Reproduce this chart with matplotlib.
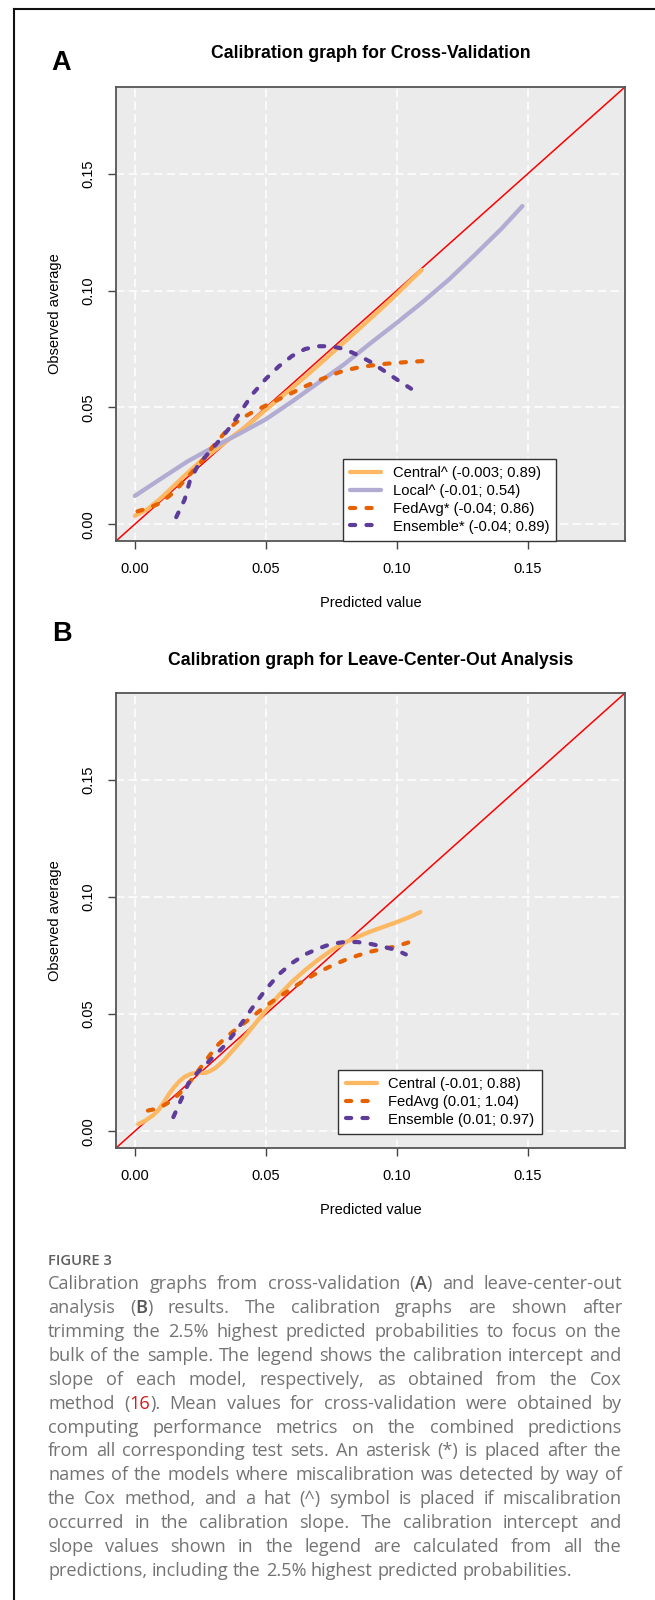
import re
import matplotlib
matplotlib.use("Agg")
import matplotlib.pyplot as plt

# ---------------- data ----------------
# panel A: cross-validation
cv_central_x = [0.000, 0.005, 0.010, 0.015, 0.020, 0.025, 0.030, 0.035, 0.040, 0.045, 0.050,
                0.055, 0.060, 0.065, 0.070, 0.075, 0.080, 0.085, 0.090, 0.095, 0.100, 0.105, 0.1095]
cv_central_y = [0.0036, 0.0065, 0.0112, 0.0165, 0.0218, 0.0268, 0.0312, 0.0355, 0.0398, 0.0442, 0.0490,
                0.0537, 0.0583, 0.0631, 0.0680, 0.0730, 0.0780, 0.0830, 0.0881, 0.0932, 0.0985, 0.1040, 0.1088]

cv_local_x = [0.000, 0.010, 0.020, 0.030, 0.040, 0.050, 0.060, 0.070, 0.080, 0.090,
              0.100, 0.110, 0.120, 0.130, 0.140, 0.148]
cv_local_y = [0.0121, 0.0195, 0.0268, 0.0330, 0.0388, 0.0449, 0.0525, 0.0605, 0.0685, 0.0775,
              0.0862, 0.0952, 0.1048, 0.1155, 0.1265, 0.1362]

cv_fedavg_x = [0.001, 0.005, 0.010, 0.015, 0.020, 0.025, 0.030, 0.035, 0.040, 0.045, 0.050, 0.055,
               0.060, 0.065, 0.070, 0.075, 0.080, 0.085, 0.090, 0.095, 0.100, 0.105, 0.111]
cv_fedavg_y = [0.0055, 0.0068, 0.0092, 0.0138, 0.0200, 0.0262, 0.0335, 0.0400, 0.0448, 0.0480, 0.0508, 0.0535,
               0.0562, 0.0590, 0.0615, 0.0638, 0.0658, 0.0670, 0.0679, 0.0686, 0.0691, 0.0695, 0.0699]

cv_ensemble_x = [0.0158, 0.0175, 0.0190, 0.0210, 0.0240, 0.0280, 0.0320, 0.0360, 0.0400, 0.0450, 0.0500,
                 0.0550, 0.0600, 0.0650, 0.0700, 0.0750, 0.0800, 0.0850, 0.0900, 0.0950, 0.1000, 0.1055]
cv_ensemble_y = [0.0030, 0.0070, 0.0105, 0.0185, 0.0250, 0.0303, 0.0355, 0.0410, 0.0475, 0.0558, 0.0622,
                 0.0676, 0.0720, 0.0750, 0.0762, 0.0762, 0.0750, 0.0725, 0.0695, 0.0658, 0.0620, 0.0580]

cv_labels = ["Central^ (-0.003; 0.89)", "Local^ (-0.01; 0.54)",
             "FedAvg* (-0.04; 0.86)", "Ensemble* (-0.04; 0.89)"]

# panel B: leave-center-out
lco_central_x = [0.0013, 0.0040, 0.0070, 0.0090, 0.0110, 0.0130, 0.0150, 0.0170, 0.0190, 0.0210, 0.0230,
                 0.0250, 0.0270, 0.0290, 0.0310, 0.0340, 0.0370, 0.0400, 0.0430, 0.0460, 0.0500, 0.0550,
                 0.0600, 0.0650, 0.0700, 0.0750, 0.0800, 0.0850, 0.0900, 0.0950, 0.1000, 0.1050, 0.1090]
lco_central_y = [0.0030, 0.0045, 0.0068, 0.0090, 0.0122, 0.0158, 0.0188, 0.0213, 0.0232, 0.0243, 0.0249,
                 0.0249, 0.0249, 0.0258, 0.0272, 0.0302, 0.0340, 0.0378, 0.0418, 0.0460, 0.0515, 0.0580,
                 0.0638, 0.0688, 0.0732, 0.0772, 0.0805, 0.0830, 0.0853, 0.0873, 0.0893, 0.0915, 0.0936]

lco_fedavg_x = [0.0050, 0.0080, 0.0110, 0.0140, 0.0170, 0.0200, 0.0230, 0.0260, 0.0290, 0.0320, 0.0360,
                0.0400, 0.0450, 0.0500, 0.0550, 0.0600, 0.0650, 0.0700, 0.0750, 0.0800, 0.0850, 0.0900,
                0.0950, 0.1000, 0.1055]
lco_fedavg_y = [0.0088, 0.0095, 0.0110, 0.0130, 0.0160, 0.0195, 0.0240, 0.0285, 0.0330, 0.0372, 0.0412,
                0.0447, 0.0490, 0.0535, 0.0573, 0.0610, 0.0647, 0.0678, 0.0706, 0.0730, 0.0750, 0.0767,
                0.0779, 0.0790, 0.0810]

lco_ensemble_x = [0.0147, 0.0165, 0.0185, 0.0205, 0.0230, 0.0260, 0.0300, 0.0340, 0.0380, 0.0420, 0.0460,
                  0.0500, 0.0550, 0.0600, 0.0650, 0.0700, 0.0750, 0.0800, 0.0850, 0.0900, 0.0950, 0.1000, 0.1035]
lco_ensemble_y = [0.0060, 0.0105, 0.0155, 0.0205, 0.0240, 0.0272, 0.0318, 0.0362, 0.0418, 0.0480, 0.0545,
                  0.0605, 0.0670, 0.0718, 0.0755, 0.0780, 0.0800, 0.0808, 0.0808, 0.0800, 0.0788, 0.0773, 0.0755]

lco_labels = ["Central (-0.01; 0.88)", "FedAvg (0.01; 1.04)", "Ensemble (0.01; 0.97)"]

ticks = [0.00, 0.05, 0.10, 0.15]
lims = (-0.0072, 0.1872)

caption_head = "FIGURE 3"
# {..} = bold, [..] = red reference link
caption_lines = [
    "Calibration graphs from cross-validation ({A}) and leave-center-out",
    "analysis ({B}) results. The calibration graphs are shown after",
    "trimming the 2.5% highest predicted probabilities to focus on the",
    "bulk of the sample. The legend shows the calibration intercept and",
    "slope of each model, respectively, as obtained from the Cox",
    "method ([16]). Mean values for cross-validation were obtained by",
    "computing performance metrics on the combined predictions",
    "from all corresponding test sets. An asterisk (*) is placed after the",
    "names of the models where miscalibration was detected by way of",
    "the Cox method, and a hat (^) symbol is placed if miscalibration",
    "occurred in the calibration slope. The calibration intercept and",
    "slope values shown in the legend are calculated from all the",
    "predictions, including the 2.5% highest predicted probabilities.",
]

# ---------------- styles ----------------
C_CENTRAL = "#FDB863"
C_LOCAL = "#B2ABD2"
C_FEDAVG = "#E66101"
C_ENSEMBLE = "#5E3C99"
DASH = (0, (1.25, 2.7))
FS = 10.5

plt.rcParams["font.family"] = ["Liberation Sans", "DejaVu Sans"]

W, H = 655, 1600
fig = plt.figure(figsize=(W / 100, H / 100), dpi=100)


def add_axes_px(left, top, right, bottom):
    return fig.add_axes([left / W, 1 - bottom / H, (right - left) / W, (bottom - top) / H])


def style_axes(ax, title, title_base):
    ax.set_facecolor("#EBEBEB")
    ax.set_xlim(lims)
    ax.set_ylim(lims)
    ax.set_xticks(ticks)
    ax.set_yticks(ticks)
    ax.set_xticklabels([f"{t:.2f}" for t in ticks])
    ax.set_yticklabels([f"{t:.2f}" for t in ticks], rotation=90, va="center")
    ax.tick_params(length=6, width=1, color="#444444", labelsize=FS, pad=9)
    ax.set_axisbelow(True)
    ax.grid(color="white", linestyle=(0, (5.5, 2.8)), lw=1.1)
    for s in ax.spines.values():
        s.set_color("#555555")
        s.set_linewidth(1.3)
    ax.axline((0, 0), slope=1, color="#FF0000", lw=1.1, zorder=1.5)
    ax.set_xlabel("Predicted value", fontsize=FS)
    ax.set_ylabel("Observed average", fontsize=FS)
    ax.xaxis.label.set_va("center")
    ax.yaxis.label.set_va("center")
    h = ax.get_position().height * H
    ax.xaxis.set_label_coords(0.5, -62 / h)
    ax.yaxis.set_label_coords(-(116 - 54.5) / 509, 0.5)
    top = (1 - ax.get_position().y1) * H
    ax.text(0.5, 1 + (top - title_base) / h, title, transform=ax.transAxes,
            ha="center", va="baseline", fontsize=12.7, fontweight="bold")


def add_legend(ax, x0, y0):
    ax.legend(loc="lower left", bbox_to_anchor=(x0, y0), borderaxespad=0,
              fontsize=10.6, frameon=True, fancybox=False, framealpha=1,
              edgecolor="#333333", facecolor="white", handlelength=2.1,
              handletextpad=0.8, labelspacing=0.26, borderpad=0.5)
    ax.get_legend().get_frame().set_linewidth(1.0)


# ---------------- panel A ----------------
axA = add_axes_px(116, 87, 625, 541)
style_axes(axA, "Calibration graph for Cross-Validation", 58)
axA.plot(cv_central_x, cv_central_y, color=C_CENTRAL, lw=3.1, solid_capstyle="round", label=cv_labels[0])
axA.plot(cv_local_x, cv_local_y, color=C_LOCAL, lw=3.1, solid_capstyle="round", label=cv_labels[1])
axA.plot(cv_fedavg_x, cv_fedavg_y, color=C_FEDAVG, lw=3.0, linestyle=DASH, dash_capstyle="round", label=cv_labels[2])
axA.plot(cv_ensemble_x, cv_ensemble_y, color=C_ENSEMBLE, lw=3.0, linestyle=DASH, dash_capstyle="round", label=cv_labels[3])
add_legend(axA, 0.445, 0.0)

# ---------------- panel B ----------------
axB = add_axes_px(116, 693, 625, 1148)
style_axes(axB, "Calibration graph for Leave-Center-Out Analysis", 665)
axB.plot(lco_central_x, lco_central_y, color=C_CENTRAL, lw=3.1, solid_capstyle="round", label=lco_labels[0])
axB.plot(lco_fedavg_x, lco_fedavg_y, color=C_FEDAVG, lw=3.0, linestyle=DASH, dash_capstyle="round", label=lco_labels[1])
axB.plot(lco_ensemble_x, lco_ensemble_y, color=C_ENSEMBLE, lw=3.0, linestyle=DASH, dash_capstyle="round", label=lco_labels[2])
add_legend(axB, 0.4367, 0.031)

# panel letters
fig.text(61 / W, 1 - 70 / H, "A", fontsize=19.5, fontweight="bold", ha="center", va="baseline")
fig.text(62 / W, 1 - 641 / H, "B", fontsize=19.5, fontweight="bold", ha="center", va="baseline")

# frame round the figure (left and top edges)
fig.add_artist(plt.Line2D([14 / W, 14 / W], [0, 1 - 9 / H], color="#111111", lw=1.5))
fig.add_artist(plt.Line2D([14 / W, 1], [1 - 9 / H, 1 - 9 / H], color="#111111", lw=1.5))

# ---------------- caption (justified) ----------------
CAP_FONT = ["Open Sans", "DejaVu Sans"]
CAP_GRAY = "#737373"
CAP_LEFT, CAP_RIGHT = 48, 622
renderer = fig.canvas.get_renderer()


def text_width(s, size, weight="normal"):
    t = fig.text(0, 0, s, fontsize=size, family=CAP_FONT, fontweight=weight)
    w = t.get_window_extent(renderer).width
    t.remove()
    return w


def segments(word):
    out = []
    for part in re.split(r"(\{[^}]*\}|\[[^\]]*\])", word):
        if not part:
            continue
        if part.startswith("{"):
            out.append((part[1:-1], "#555555", "semibold"))
        elif part.startswith("["):
            out.append((part[1:-1], "#D7191C", "normal"))
        else:
            out.append((part, CAP_GRAY, "normal"))
    return out


cap_fs = 14 * 527.6 / text_width(caption_lines[-1], 14)
head_fs = 12 * 64 / text_width(caption_head, 12, "semibold")

fig.text(CAP_LEFT / W, 1 - 1265 / H, caption_head, fontsize=head_fs, family=CAP_FONT,
         color="#5f5f5f", fontweight="semibold", va="baseline")

for i, line in enumerate(caption_lines):
    base = 1289.3 + i * 23.87
    words = [segments(w) for w in line.split(" ")]
    widths = [[text_width(s, cap_fs, wt) for s, _, wt in segs] for segs in words]
    totals = [sum(ws) for ws in widths]
    if i < len(caption_lines) - 1:
        gap = (CAP_RIGHT - CAP_LEFT - sum(totals)) / (len(words) - 1)
    else:
        gap = text_width("a b", cap_fs) - text_width("ab", cap_fs)
    x = CAP_LEFT
    for segs, ws in zip(words, widths):
        for (s, col, wt), w in zip(segs, ws):
            fig.text(x / W, 1 - base / H, s, fontsize=cap_fs, family=CAP_FONT, color=col,
                     fontweight=wt, va="baseline", ha="left")
            x += w
        x += gap

fig.savefig("out.png", dpi=100)
